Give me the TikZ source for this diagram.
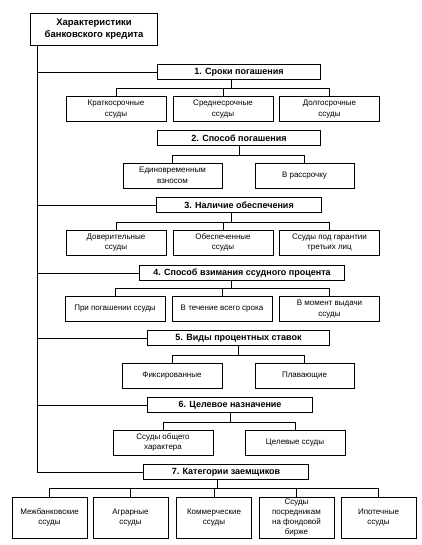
\documentclass[tikz,border=0pt]{standalone}
\usepackage{fontspec}
\setmainfont{Liberation Sans}
\begin{document}
\begin{tikzpicture}[x=1pt,y=-1pt,
  topbox/.style={draw, line width=1.5pt, font=\bfseries\fontsize{9.5}{12}\selectfont, align=center, inner sep=0pt, minimum width=127pt, minimum height=32pt},
  cat/.style={draw, line width=1.5pt, font=\bfseries\fontsize{9}{10}\selectfont, inner sep=0pt, minimum height=15pt},
  sub/.style={draw, line width=0.7pt, font=\fontsize{8}{10.5}\selectfont, align=center, inner sep=0pt, minimum width=100pt, minimum height=25pt},
  subb/.style={sub, line width=1pt, font=\fontsize{8}{9.8}\selectfont, minimum width=75pt, minimum height=41pt},
  conn/.style={line width=0.5pt}]
\useasboundingbox (0,0) rectangle (422,545);

\node[topbox] (top) at (94,29.5) {Характеристики\\банковского кредита};

% Category 1
\node[cat, minimum width=163pt] (c1) at (239,72) {1. Сроки погашения};
\node[sub] (s11) at (116,109) {Краткосрочные\\ссуды};
\node[sub] (s12) at (223,109) {Среднесрочные\\ссуды};
\node[sub] (s13) at (329.5,109) {Долгосрочные\\ссуды};
\coordinate (b1) at (231,88);

% Category 2
\node[cat, minimum width=163pt] (c2) at (239,138) {2. Способ погашения};
\node[sub, minimum width=99pt] (s21) at (172.5,175.5) {Единовременным\\взносом};
\node[sub, minimum width=99pt] (s22) at (304.5,175.5) {В рассрочку};
\coordinate (b2) at (239,155);

% Category 3
\node[cat, minimum width=165pt] (c3) at (239,205) {3. Наличие обеспечения};
\node[sub] (s31) at (116,242.5) {Доверительные\\ссуды};
\node[sub] (s32) at (223,242.5) {Обеспеченные\\ссуды};
\node[sub] (s33) at (329.5,242.5) {Ссуды под гарантии\\третьих лиц};
\coordinate (b3) at (231,222);

% Category 4
\node[cat, minimum width=205pt] (c4) at (242,273) {4. Способ взимания ссудного процента};
\node[sub] (s41) at (115,309) {При погашении ссуды};
\node[sub] (s42) at (222,309) {В течение всего срока};
\node[sub] (s43) at (329.5,309) {В момент выдачи\\ссуды};
\coordinate (b4) at (231,288);

% Category 5
\node[cat, minimum width=182pt] (c5) at (238.5,338) {5. Виды процентных ставок};
\node[sub] (s51) at (172,375.5) {Фиксированные};
\node[sub, minimum width=99pt] (s52) at (304.5,375.5) {Плавающие};
\coordinate (b5) at (238.5,355);

% Category 6
\node[cat, minimum width=165pt] (c6) at (230,405) {6. Целевое назначение};
\node[sub] (s61) at (163,442.5) {Ссуды общего\\характера};
\node[sub] (s62) at (295,442.5) {Целевые ссуды};
\coordinate (b6) at (230,422);

% Category 7
\node[cat, minimum width=165pt] (c7) at (226,472) {7. Категории заемщиков};
\node[subb] (s71) at (49.5,517.5) {Межбанковские\\ссуды};
\node[subb] (s72) at (130.5,517.5) {Аграрные\\ссуды};
\node[subb] (s73) at (214,517.5) {Коммерческие\\ссуды};
\node[subb] (s74) at (296.5,517.5) {Ссуды\\посредникам\\на фондовой\\бирже};
\node[subb] (s75) at (378.5,517.5) {Ипотечные\\ссуды};
\coordinate (b7) at (217,488);

% Left spine
\coordinate (vtop) at (37,46);
\coordinate (vend) at (37,472);
\draw[conn] (top.south -| vtop) -- (vend) -- (c7.west);
\foreach \c in {c1,c3,c4,c5,c6}
  \draw[conn] (\c.west -| vend) -- (\c.west);

% Branches with three children
\foreach \c/\b/\p/\q/\r in {c1/b1/s11/s12/s13, c3/b3/s31/s32/s33, c4/b4/s41/s42/s43}{
  \draw[conn] (\c.south -| \b) -- (\b);
  \draw[conn] (\p.north) -- (\p.north |- \b) -- (\r.north |- \b) -- (\r.north);
  \draw[conn] (\q.north |- \b) -- (\q.north);
}
% Branches with two children
\foreach \c/\b/\p/\r in {c2/b2/s21/s22, c5/b5/s51/s52, c6/b6/s61/s62}{
  \draw[conn] (\c.south -| \b) -- (\b);
  \draw[conn] (\p.north) -- (\p.north |- \b) -- (\r.north |- \b) -- (\r.north);
}
% Branch of category 7
\draw[conn] (c7.south -| b7) -- (b7);
\draw[conn] (s71.north) -- (s71.north |- b7) -- (s75.north |- b7) -- (s75.north);
\foreach \s in {s72,s73,s74}
  \draw[conn] (\s.north |- b7) -- (\s.north);
\end{tikzpicture}
\end{document}
